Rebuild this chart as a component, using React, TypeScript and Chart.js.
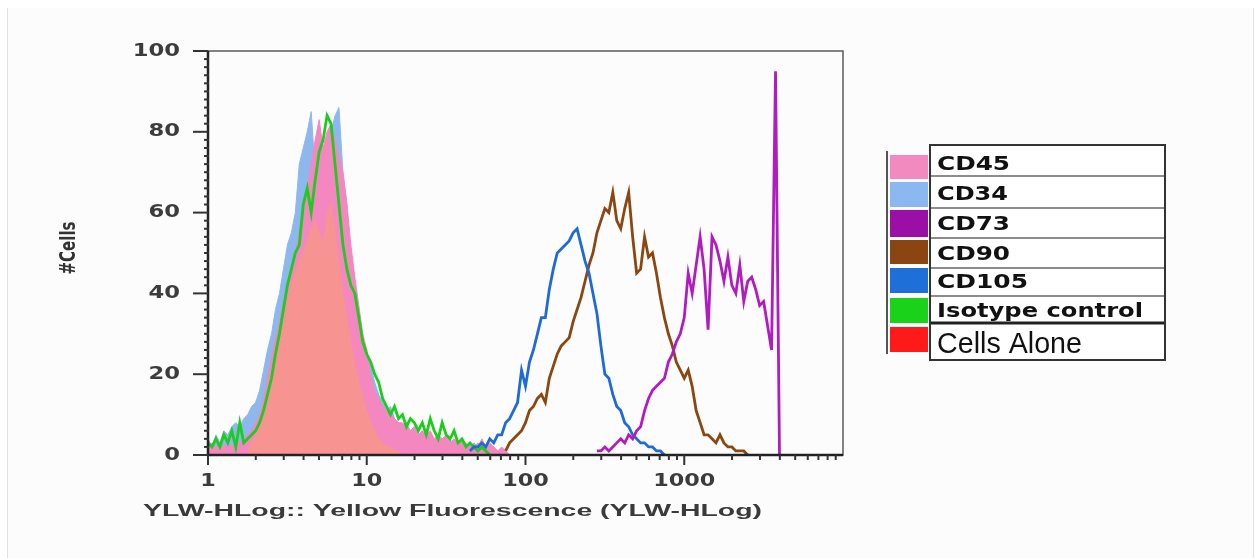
import React, { useEffect, useRef } from "react";
import { Chart, registerables } from "chart.js";

Chart.register(...registerables);

// ---------------- data ----------------
const CHANNELS_PER_DECADE = 40;
const X_MIN = 1;
const X_MAX = 10000;
const Y_MIN = 0;
const Y_MAX = 100;
const xTickValues = [1, 10, 100, 1000];
const xTickLabels = ["1", "10", "100", "1000"];
const yTickValues = [0, 20, 40, 60, 80, 100];
const yTickLabels = ["0", "20", "40", "60", "80", "100"];
const xAxisTitle = "YLW-HLog:: Yellow Fluorescence (YLW-HLog)";
const yAxisTitle = "#Cells";
const seriesNames = ["CD45", "CD34", "CD73", "CD90", "CD105", "Isotype control", "Cells Alone"];

// histogram counts per channel, starting at the given channel index
const cd34Start = 0;
const cd34 = [4, 2, 5, 3, 6, 5, 7, 8, 7, 9, 10, 12, 13, 16, 21, 26, 30, 36, 40, 46, 52, 55, 60, 72, 76, 80, 85, 70, 66, 72, 75, 80, 84, 86, 70, 62, 50, 42, 35, 28, 24, 22, 18, 15, 13, 11, 12, 9, 8, 7, 8, 6, 7, 5, 6, 4, 5, 4, 3, 4, 3, 4, 2, 3, 4, 2, 3, 2, 3, 2, 1, 2, 1, 1, 0];

const cd45Start = 0;
const cd45 = [2, 3, 2, 3, 2, 3, 2, 3, 3, 4, 5, 6, 8, 10, 14, 19, 24, 29, 33, 38, 42, 46, 50, 55, 60, 66, 72, 78, 83, 76, 80, 82, 78, 74, 70, 62, 52, 44, 37, 30, 26, 20, 16, 14, 12, 11, 10, 9, 8, 8, 7, 6, 7, 5, 6, 5, 6, 4, 5, 4, 5, 3, 4, 3, 4, 3, 2, 3, 2, 4, 2, 3, 2, 1, 2, 1, 0];

const cellsAloneStart = 10;
const cellsAlone = [2, 3, 5, 8, 12, 16, 21, 26, 30, 34, 38, 42, 45, 48, 50, 53, 56, 58, 55, 52, 60, 62, 55, 47, 40, 34, 28, 23, 18, 14, 11, 8, 6, 4, 3, 2, 2, 1, 1, 0];

const isotypeStart = 0;
const isotype = [3, 2, 4, 2, 5, 3, 6, 2, 8, 3, 4, 5, 6, 8, 11, 15, 19, 25, 30, 36, 42, 46, 50, 52, 62, 66, 60, 68, 75, 78, 84, 82, 72, 62, 52, 46, 42, 40, 34, 28, 25, 23, 20, 18, 14, 12, 10, 12, 9, 10, 7, 9, 8, 6, 8, 5, 9, 6, 4, 8, 5, 4, 6, 3, 4, 2, 3, 2, 1, 2, 1, 0];

const cd105Start = 66;
const cd105 = [1, 2, 2, 3, 2, 4, 3, 5, 5, 8, 9, 11, 13, 21, 17, 23, 26, 30, 34, 34, 41, 46, 50, 51, 52, 53, 55, 56, 52, 48, 45, 40, 35, 27, 20, 19, 15, 12, 11, 8, 7, 5, 4, 3, 3, 2, 2, 1, 1, 0];

const cd90Start = 75;
const cd90 = [1, 3, 4, 5, 6, 8, 11, 12, 14, 15, 13, 19, 22, 25, 27, 28, 29, 33, 36, 39, 43, 47, 50, 55, 58, 61, 60, 65, 58, 56, 61, 65, 54, 45, 46, 54, 49, 50, 45, 39, 34, 30, 27, 23, 21, 19, 21, 17, 11, 8, 5, 5, 4, 3, 5, 3, 2, 2, 1, 1, 1, 0];

const cd73Start = 98;
const cd73 = [1, 1, 2, 1, 2, 3, 4, 3, 5, 4, 6, 7, 11, 14, 16, 17, 18, 19, 23, 25, 28, 30, 34, 45, 40, 47, 54, 46, 31, 54, 52, 48, 43, 49, 42, 40, 47, 38, 43, 44, 41, 37, 38, 32, 26, 95, 0];

// ---------------- layout / style ----------------
const W = 1259;
const H = 558;
const PLOT = { left: 208, top: 51, right: 843, bottom: 455 };

const COLORS = {
  cd45: "#f487c0",
  cd34: "#8db8ee",
  cd73: "#b01cc0",
  cd90: "#8a4710",
  cd105: "#1e6ad6",
  isotype: "#1ecb1e",
  cellsAlone: "#f79492",
};
const SWATCHES = ["#f28ac0", "#8bb8f0", "#9b0fa6", "#8b4513", "#1f6fd8", "#19d219", "#ff1a1a"];
const LEGEND = {
  boxLeft: 930,
  boxRight: 1165,
  boxTop: 145,
  boxBottom: 360,
  separators: [176, 208, 238, 268, 296, 323],
  swatchLeft: 890,
  swatchRight: 928,
  swatchTops: [155, 182, 210, 240, 268, 298, 327],
  swatchHeights: [24, 25, 27, 24, 25, 25, 25],
  textLeft: 937,
  baselines: [170, 200, 230, 260, 288, 317, 353],
  widths: [73, 71, 73, 73, 91, 206, 145],
};

const channelValue = (ch: number) => Math.pow(10, ch / CHANNELS_PER_DECADE);
const toPoints = (start: number, values: number[]) =>
  values.map((y, k) => ({ x: channelValue(start + k), y }));

function drawStretched(
  ctx: CanvasRenderingContext2D,
  text: string,
  x: number,
  y: number,
  sx: number,
  align: CanvasTextAlign
) {
  ctx.save();
  ctx.translate(x, y);
  ctx.scale(sx, 1);
  ctx.textAlign = align;
  ctx.fillText(text, 0, 0);
  ctx.restore();
}

function drawFit(ctx: CanvasRenderingContext2D, text: string, x: number, y: number, width: number) {
  const w = ctx.measureText(text).width;
  drawStretched(ctx, text, x, y, width / w, "left");
}

const decorPlugin = {
  id: "decor",
  afterDraw(chart: any) {
    const ctx: CanvasRenderingContext2D = chart.ctx;
    const { left, top, right, bottom } = chart.chartArea;
    const xs = chart.scales.x;
    const ys = chart.scales.y;
    ctx.save();

    // frame
    ctx.strokeStyle = "#5a5a5a";
    ctx.lineWidth = 1.5;
    ctx.strokeRect(left, top, right - left, bottom - top);
    // axes
    ctx.strokeStyle = "#222";
    ctx.lineWidth = 2.5;
    ctx.beginPath();
    ctx.moveTo(left, top);
    ctx.lineTo(left, bottom);
    ctx.lineTo(right, bottom);
    ctx.stroke();

    // y ticks
    ctx.lineWidth = 2;
    ctx.strokeStyle = "#333";
    for (let v = Y_MIN; v <= Y_MAX; v += 2) {
      const py = ys.getPixelForValue(v);
      ctx.beginPath();
      if (v % 20 === 0) {
        ctx.moveTo(left - 15, py);
        ctx.lineTo(left, py);
      } else {
        ctx.moveTo(left - 4, py);
        ctx.lineTo(left + 1, py);
      }
      ctx.stroke();
    }
    // x ticks
    for (let d = 0; d < 4; d++) {
      for (let k = 1; k <= 9; k++) {
        const v = k * Math.pow(10, d);
        const px = xs.getPixelForValue(v);
        ctx.beginPath();
        ctx.moveTo(px, bottom);
        ctx.lineTo(px, bottom + (k === 1 ? 10 : 5));
        ctx.stroke();
      }
    }

    // tick labels
    ctx.fillStyle = "#3c3c3c";
    ctx.font = 'bold 18px "DejaVu Sans"';
    ctx.textBaseline = "middle";
    yTickValues.forEach((v, i) => {
      drawStretched(ctx, yTickLabels[i], 180, ys.getPixelForValue(v), 1.26, "right");
    });
    xTickValues.forEach((v, i) => {
      drawStretched(ctx, xTickLabels[i], xs.getPixelForValue(v), 481, 1.24, "center");
    });

    // x title
    ctx.fillStyle = "#3a3a3a";
    ctx.font = 'bold 17px "Liberation Sans"';
    drawFit(ctx, xAxisTitle, 143, 511, 619);

    // y title
    ctx.fillStyle = "#333";
    ctx.font = 'bold 15px "DejaVu Sans"';
    const tw = ctx.measureText(yAxisTitle).width;
    ctx.save();
    ctx.translate(69, 248);
    ctx.rotate(-Math.PI / 2);
    ctx.scale(53 / tw, 1.45);
    ctx.textAlign = "center";
    ctx.fillText(yAxisTitle, 0, 0);
    ctx.restore();

    // legend
    ctx.textBaseline = "alphabetic";
    ctx.strokeStyle = "#555";
    ctx.lineWidth = 2;
    ctx.beginPath();
    ctx.moveTo(LEGEND.swatchLeft - 3, LEGEND.swatchTops[0] - 4);
    ctx.lineTo(LEGEND.swatchLeft - 3, LEGEND.swatchTops[6] + LEGEND.swatchHeights[6] + 2);
    ctx.stroke();
    seriesNames.forEach((name, i) => {
      ctx.fillStyle = SWATCHES[i];
      ctx.fillRect(LEGEND.swatchLeft, LEGEND.swatchTops[i], LEGEND.swatchRight - LEGEND.swatchLeft, LEGEND.swatchHeights[i]);
    });
    ctx.fillStyle = "#fff";
    ctx.fillRect(LEGEND.boxLeft, LEGEND.boxTop, LEGEND.boxRight - LEGEND.boxLeft, LEGEND.boxBottom - LEGEND.boxTop);
    LEGEND.separators.forEach((sy, i) => {
      ctx.strokeStyle = i === 5 ? "#222" : "#666";
      ctx.lineWidth = i === 5 ? 3 : 1.5;
      ctx.beginPath();
      ctx.moveTo(LEGEND.boxLeft, sy);
      ctx.lineTo(LEGEND.boxRight, sy);
      ctx.stroke();
    });
    ctx.strokeStyle = "#333";
    ctx.lineWidth = 2;
    ctx.strokeRect(LEGEND.boxLeft, LEGEND.boxTop, LEGEND.boxRight - LEGEND.boxLeft, LEGEND.boxBottom - LEGEND.boxTop);
    ctx.fillStyle = "#111";
    seriesNames.forEach((name, i) => {
      ctx.font = i === 6 ? '500 30px "Liberation Sans Narrow", "Liberation Sans"' : 'bold 19px "DejaVu Sans"';
      drawFit(ctx, name, LEGEND.textLeft, LEGEND.baselines[i], LEGEND.widths[i]);
    });

    ctx.restore();
  },
};

function histDataset(label: string, start: number, values: number[], color: string, filled: boolean, order: number) {
  return {
    label,
    data: toPoints(start, values),
    borderColor: color,
    backgroundColor: color,
    borderWidth: filled ? 1 : 2.8,
    fill: filled ? "origin" : false,
    pointRadius: 0,
    tension: 0,
    order,
  };
}

export default function App() {
  const canvasRef = useRef<HTMLCanvasElement | null>(null);

  useEffect(() => {
    if (!canvasRef.current) return;
    const chart = new Chart(canvasRef.current, {
      type: "line",
      data: {
        datasets: [
          histDataset(seriesNames[1], cd34Start, cd34, COLORS.cd34, true, 10),
          histDataset(seriesNames[0], cd45Start, cd45, COLORS.cd45, true, 9),
          histDataset(seriesNames[6], cellsAloneStart, cellsAlone, COLORS.cellsAlone, true, 8),
          histDataset(seriesNames[5], isotypeStart, isotype, COLORS.isotype, false, 7),
          histDataset(seriesNames[3], cd90Start, cd90, COLORS.cd90, false, 6),
          histDataset(seriesNames[4], cd105Start, cd105, COLORS.cd105, false, 5),
          histDataset(seriesNames[2], cd73Start, cd73, COLORS.cd73, false, 4),
        ] as any,
      },
      options: {
        animation: false,
        responsive: false,
        layout: { padding: { left: 0, top: PLOT.top, right: W - PLOT.right, bottom: 0 } },
        plugins: { legend: { display: false }, tooltip: { enabled: false } },
        scales: {
          x: {
            type: "logarithmic",
            min: X_MIN,
            max: X_MAX,
            ticks: { display: false },
            grid: { display: false },
            border: { display: false },
            afterFit: (s: any) => {
              s.height = H - PLOT.bottom;
            },
          },
          y: {
            type: "linear",
            min: Y_MIN,
            max: Y_MAX,
            ticks: { display: false },
            grid: { display: false },
            border: { display: false },
            afterFit: (s: any) => {
              s.width = PLOT.left;
            },
          },
        },
      } as any,
      plugins: [decorPlugin],
    });
    return () => chart.destroy();
  }, []);

  return (
    <div style={{ position: "fixed", left: 0, top: 0, width: W, height: H, background: "#fff", overflow: "hidden" }}>
      <div
        style={{
          position: "absolute",
          left: 7,
          top: 8,
          width: 1245,
          height: H,
          borderLeft: "1px solid #e2e2e2",
          borderRight: "1px solid #e2e2e2",
          background: "#fcfcfc",
        }}
      />
      <canvas ref={canvasRef} width={W} height={H} style={{ position: "absolute", left: 0, top: 0, display: "block" }} />
    </div>
  );
}
